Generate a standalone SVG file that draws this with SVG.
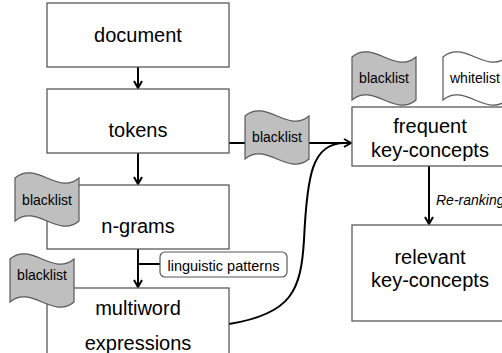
<svg xmlns="http://www.w3.org/2000/svg" width="502" height="353" viewBox="0 0 502 353">
<style>
.box{fill:#fff;stroke:#595959;stroke-width:1.3}
.flag{fill:#bfbfbf;stroke:#595959;stroke-width:1.2}
.wflag{fill:#fff;stroke:#595959;stroke-width:1.2}
.conn{fill:none;stroke:#000;stroke-width:2}
.t{font-family:"Liberation Sans",Arial,sans-serif;font-size:20px;fill:#000;text-anchor:middle}
.s{font-family:"Liberation Sans",Arial,sans-serif;font-size:14px;fill:#000;text-anchor:middle}
.i{font-family:"Liberation Sans",Arial,sans-serif;font-size:14px;font-style:italic;fill:#000}
</style>
<defs>
<marker id="arr" markerWidth="10" markerHeight="10" refX="8" refY="5" orient="auto" markerUnits="userSpaceOnUse">
<path d="M1,1 L8,5 L1,9" fill="none" stroke="#000" stroke-width="2"/>
</marker>
<path id="flagshape" d="M0,0 C21,-18 43,18 64,0 L64,43 C43,61 21,25 0,43 Z"/>
</defs>
<g id="connectors">
<line class="conn" x1="138" y1="67" x2="138" y2="88" marker-end="url(#arr)"/>
<line class="conn" x1="138" y1="153" x2="138" y2="184" marker-end="url(#arr)"/>
<line class="conn" x1="138" y1="249" x2="138" y2="287" marker-end="url(#arr)"/>
<line class="conn" x1="138" y1="264" x2="160" y2="264"/>
<line class="conn" x1="229" y1="143" x2="351" y2="143" marker-end="url(#arr)"/>
<path class="conn" d="M229,324 C292,314 301,290 304,240 C307,175 312,143 345,143"/>
<line class="conn" x1="429" y1="166" x2="429" y2="224" marker-end="url(#arr)"/>
</g>
<g id="document"><rect class="box" x="47" y="3" width="182" height="64"/><text class="t" x="138" y="42">document</text></g>
<g id="tokens"><rect class="box" x="47" y="89" width="182" height="64"/><text class="t" x="138" y="137">tokens</text></g>
<g id="ngrams"><rect class="box" x="47" y="185" width="182" height="64"/><text class="t" x="138" y="233">n-grams</text></g>
<g id="multiword"><rect class="box" x="47" y="288" width="182" height="80"/><text class="t" x="138" y="315">multiword</text><text class="t" x="138" y="350">expressions</text></g>
<g id="frequent"><rect class="box" x="352" y="107" width="170" height="59"/><text class="t" x="430" y="133">frequent</text><text class="t" x="430" y="157">key-concepts</text></g>
<g id="relevant"><rect class="box" x="352" y="225" width="170" height="96"/><text class="t" x="430" y="264">relevant</text><text class="t" x="430" y="287">key-concepts</text></g>
<g id="linguistic-patterns"><rect x="160" y="252" width="127" height="25" rx="5" fill="#fff" stroke="#595959" stroke-width="1.2"/><text class="s" x="223.5" y="271" style="font-size:14.5px">linguistic patterns</text></g>
<g id="blacklist-ngrams"><use href="#flagshape" class="flag" x="15" y="178"/><text class="s" x="47" y="205">blacklist</text></g>
<g id="blacklist-multiword"><use href="#flagshape" class="flag" x="10" y="259"/><text class="s" x="42" y="280">blacklist</text></g>
<g id="blacklist-tokens"><use href="#flagshape" class="flag" x="245" y="116"/><text class="s" x="277" y="142">blacklist</text></g>
<g id="blacklist-frequent"><use href="#flagshape" class="flag" x="352" y="57"/><text class="s" x="384" y="83">blacklist</text></g>
<g id="whitelist-frequent"><use href="#flagshape" class="wflag" x="443" y="57"/><text class="s" x="450" y="83" style="text-anchor:start">whitelist</text></g>
<g id="re-ranking-label"><text class="i" x="436" y="205">Re-ranking</text></g>
</svg>
